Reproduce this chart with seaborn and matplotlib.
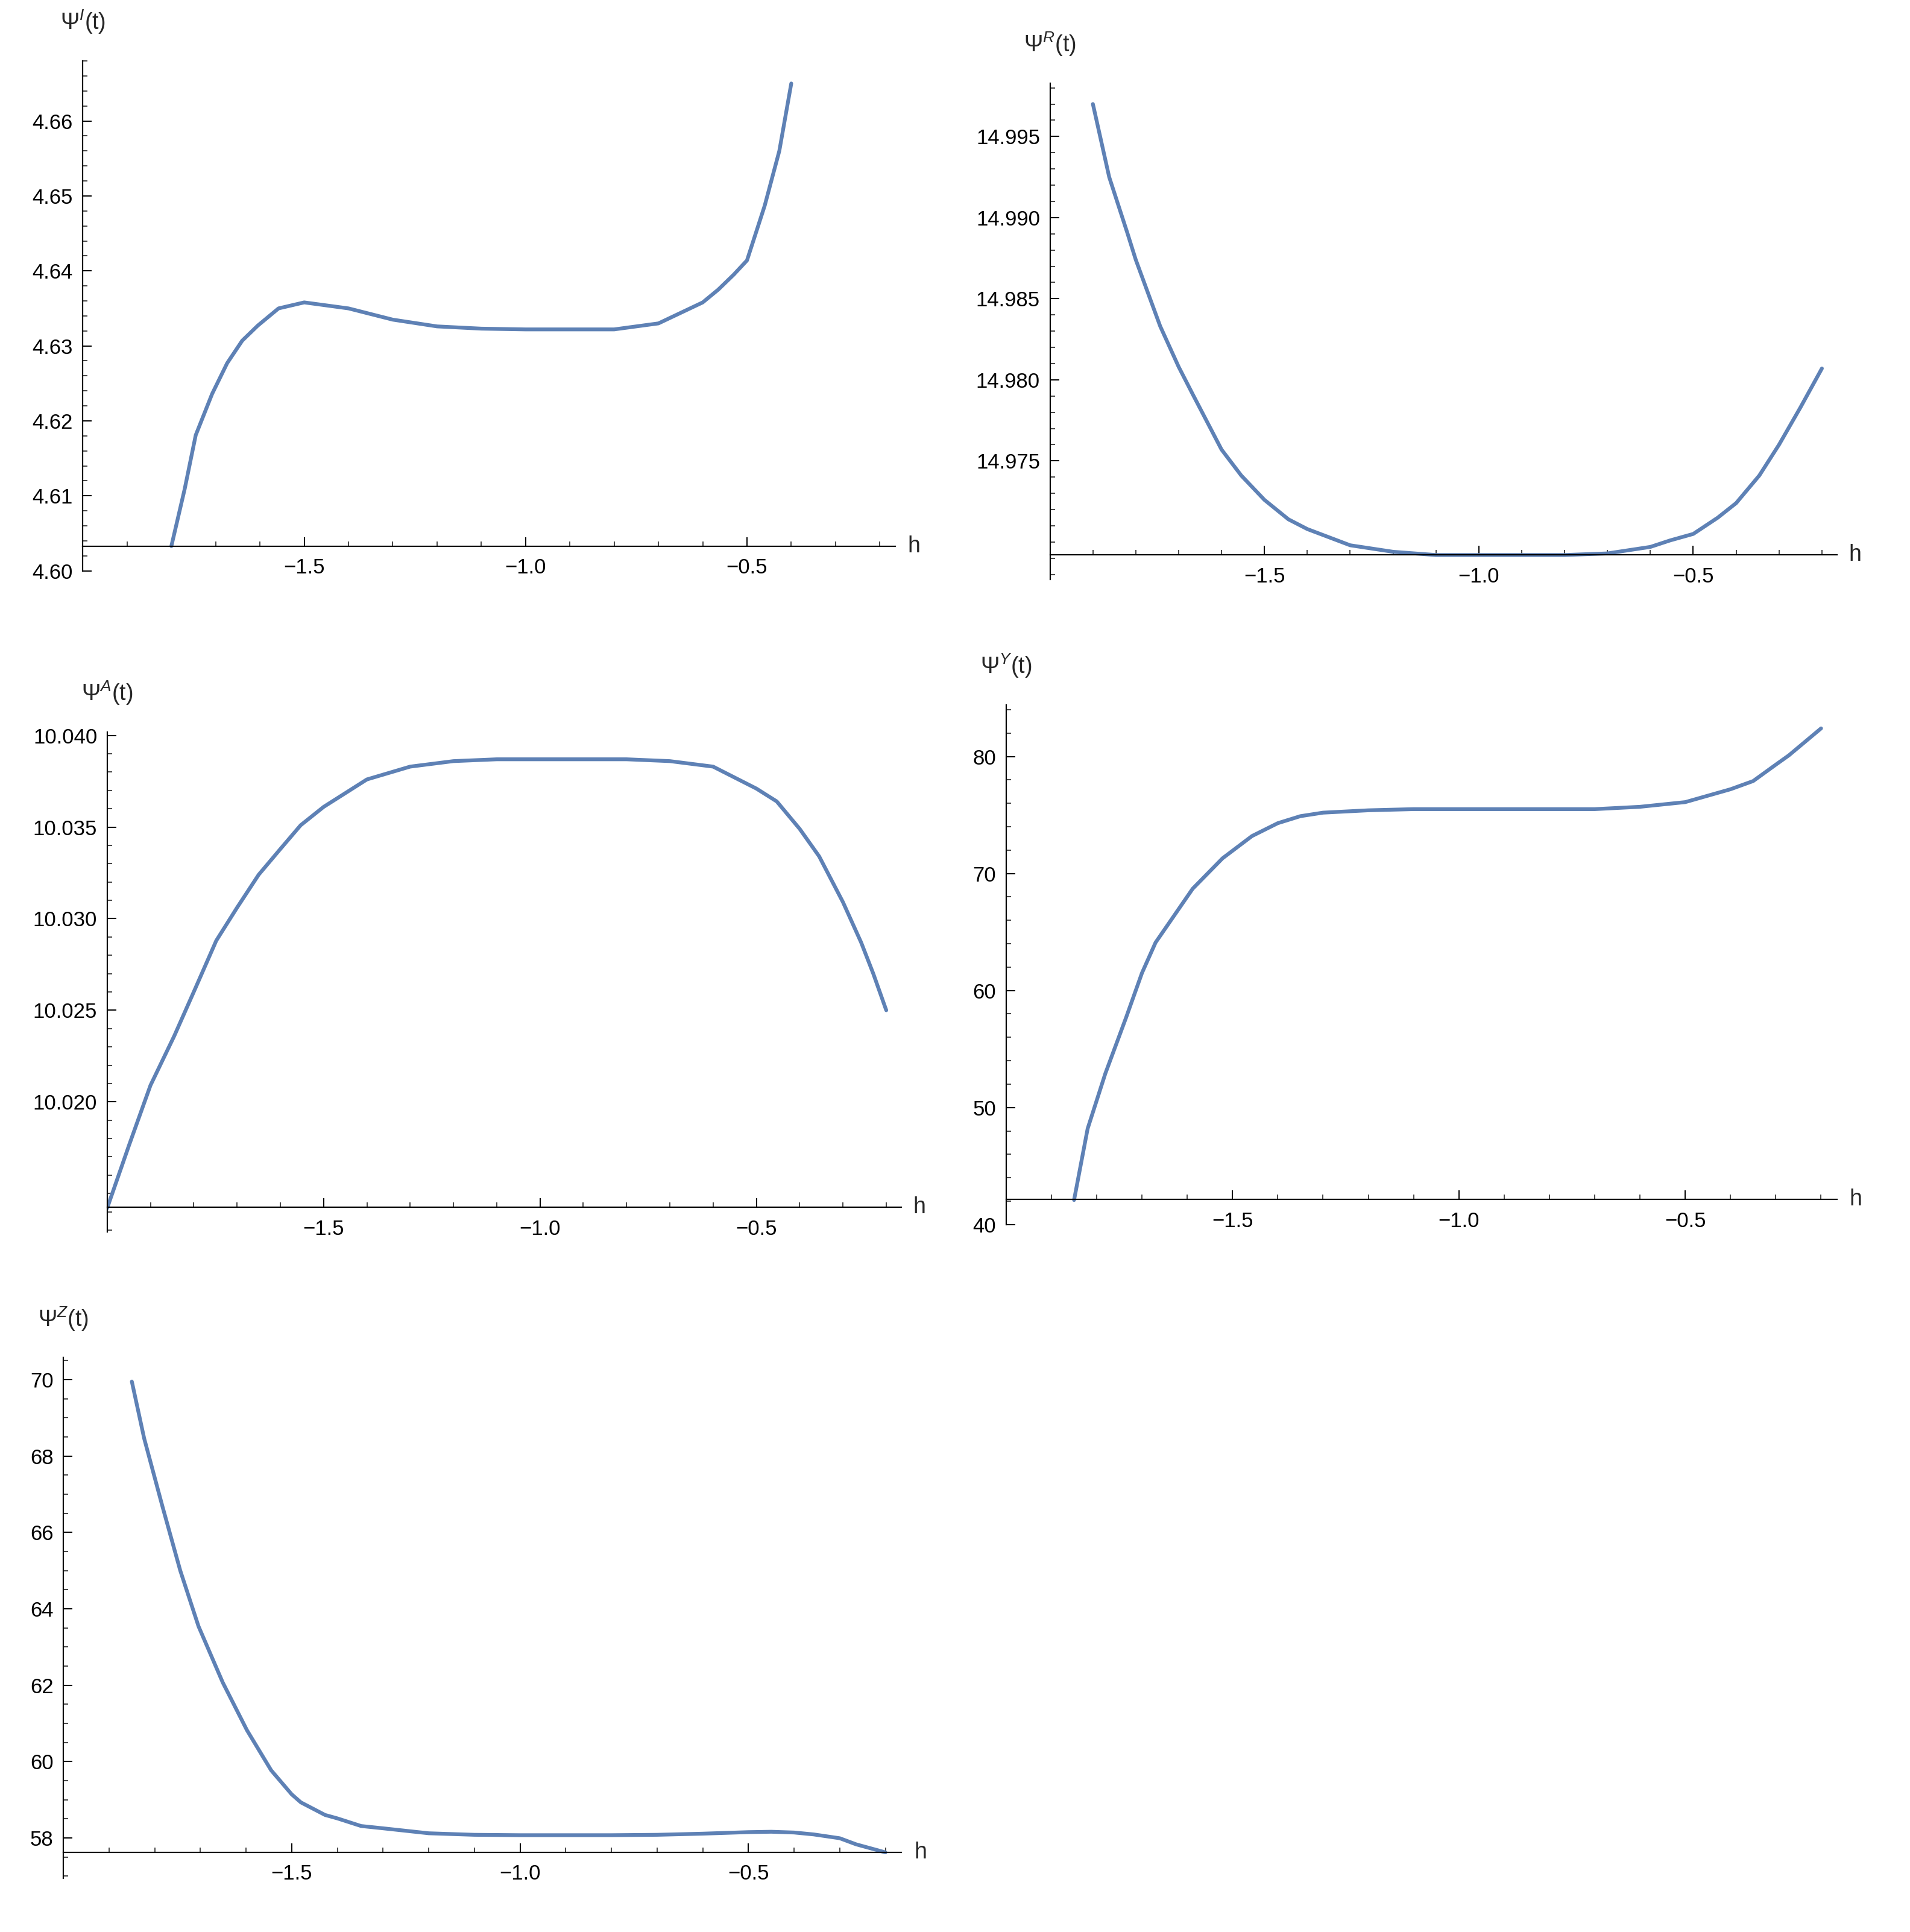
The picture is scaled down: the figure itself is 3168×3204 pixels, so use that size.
import numpy as np
import pandas as pd
import matplotlib
matplotlib.use("Agg")
import matplotlib.pyplot as plt
from matplotlib.ticker import MultipleLocator, FormatStrFormatter, FixedLocator
import seaborn as sns

sns.set_style("ticks")
plt.rcParams['font.family'] = ['Liberation Sans', 'DejaVu Sans']
plt.rcParams['mathtext.fontset'] = 'custom'
plt.rcParams['mathtext.rm'] = 'Liberation Sans'
plt.rcParams['mathtext.it'] = 'Liberation Sans:italic'
plt.rcParams['axes.unicode_minus'] = True

# ---- data ----
h_I = [-1.8, -1.77, -1.745, -1.708, -1.674, -1.64, -1.605, -1.558, -1.5, -1.4, -1.3, -1.2, -1.1, -1.0, -0.9, -0.8, -0.7, -0.6, -0.565, -0.53, -0.5, -0.46, -0.427, -0.4]
v_I = [4.6033, 4.6109, 4.6181, 4.6236, 4.6277, 4.6307, 4.6327, 4.6350, 4.6358, 4.6350, 4.6335, 4.6326, 4.6323, 4.6322, 4.6322, 4.6322, 4.6330, 4.6358, 4.6375, 4.6395, 4.6414, 4.6487, 4.6560, 4.6650]

h_R = [-1.9, -1.862, -1.819, -1.8, -1.743, -1.7, -1.667, -1.6, -1.554, -1.5, -1.444, -1.4, -1.3, -1.2, -1.1, -1.0, -0.9, -0.8, -0.7, -0.6, -0.554, -0.5, -0.443, -0.4, -0.346, -0.3, -0.25, -0.2]
v_R = [14.997, 14.9925, 14.9890, 14.9874, 14.9833, 14.9808, 14.9791, 14.9757, 14.9741, 14.9726, 14.9714, 14.9708, 14.9698, 14.9694, 14.9692, 14.9692, 14.9692, 14.9692, 14.9693, 14.9697, 14.9701, 14.9705, 14.9715, 14.9724, 14.9741, 14.9760, 14.9783, 14.9807]

h_A = [-2.0, -1.95, -1.9, -1.845, -1.8, -1.748, -1.7, -1.65, -1.6, -1.553, -1.5, -1.44, -1.4, -1.3, -1.2, -1.1, -1.0, -0.9, -0.8, -0.7, -0.6, -0.5, -0.453, -0.4, -0.355, -0.3, -0.258, -0.23, -0.2]
v_A = [10.0142, 10.0176, 10.0209, 10.0236, 10.0260, 10.0288, 10.0306, 10.0324, 10.0338, 10.0351, 10.0361, 10.0370, 10.0376, 10.0383, 10.0386, 10.0387, 10.0387, 10.0387, 10.0387, 10.0386, 10.0383, 10.0371, 10.0364, 10.0349, 10.0334, 10.0309, 10.0287, 10.0270, 10.0250]

h_Y = [-1.85, -1.82, -1.781, -1.735, -1.7, -1.67, -1.588, -1.522, -1.457, -1.4, -1.35, -1.3, -1.2, -1.1, -1.0, -0.9, -0.8, -0.7, -0.6, -0.5, -0.4, -0.35, -0.3, -0.271, -0.2]
v_Y = [42.1, 48.2, 52.9, 57.7, 61.5, 64.1, 68.7, 71.3, 73.2, 74.3, 74.9, 75.2, 75.4, 75.5, 75.5, 75.5, 75.5, 75.5, 75.7, 76.1, 77.2, 77.9, 79.3, 80.1, 82.4]

h_Z = [-1.85, -1.823, -1.783, -1.744, -1.704, -1.651, -1.598, -1.545, -1.5, -1.48, -1.427, -1.4, -1.348, -1.3, -1.2, -1.1, -1.0, -0.9, -0.8, -0.7, -0.6, -0.5, -0.45, -0.4, -0.357, -0.3, -0.264, -0.2]
v_Z = [69.95, 68.46, 66.68, 65.0, 63.54, 62.07, 60.82, 59.77, 59.14, 58.93, 58.6, 58.51, 58.31, 58.25, 58.12, 58.08, 58.07, 58.07, 58.07, 58.08, 58.11, 58.15, 58.16, 58.14, 58.09, 57.99, 57.83, 57.62]

x_ticks = [-1.5, -1.0, -0.5]
x_ticklabels = ["\u22121.5", "\u22121.0", "\u22120.5"]

yt_I = [4.60, 4.61, 4.62, 4.63, 4.64, 4.65, 4.66]
yt_R = [14.975, 14.980, 14.985, 14.990, 14.995]
yt_A = [10.020, 10.025, 10.030, 10.035, 10.040]
yt_Y = [40, 50, 60, 70, 80]
yt_Z = [58, 60, 62, 64, 66, 68, 70]

panels = [
    ("I", h_I, v_I, (4.600, 4.668), 4.6033, yt_I, 0.002, "%.2f", (68, 50, 735, 468)),
    ("R", h_R, v_R, (14.9677, 14.9983), 14.9692, yt_R, 0.001, "%.3f", (862, 68, 1508, 475)),
    ("A", h_A, v_A, (10.0129, 10.0402), 10.01424, yt_A, 0.001, "%.3f", (88, 600, 740, 1010)),
    ("Y", h_Y, v_Y, (40.0, 84.4), 42.14, yt_Y, 2, "%d", (826, 578, 1508, 1004)),
    ("Z", h_Z, v_Z, (56.94, 70.58), 57.62, yt_Z, 0.5, "%d", (52, 1113, 740, 1540)),
]

W, H = 1568.0, 1584.0
fig = plt.figure(figsize=(31.68, 32.04), dpi=100)
color = "#5E81B5"

for name, hs, vs, ylim, cross, yt, mnr, fmt, (l, t, r, b) in panels:
    ax = fig.add_axes([l / W, 1 - b / H, (r - l) / W, (b - t) / H])
    df = pd.DataFrame({"h": hs, "v": vs})
    sns.lineplot(data=df, x="h", y="v", ax=ax, color=color, linewidth=4.5, sort=True)
    ax.set_xlim(-2.0, -0.165)
    ax.set_ylim(*ylim)
    ax.spines['top'].set_visible(False)
    ax.spines['right'].set_visible(False)
    ax.spines['bottom'].set_position(('data', cross))
    for s in ('left', 'bottom'):
        ax.spines[s].set_linewidth(1.6)
        ax.spines[s].set_color('black')
    ax.set_xticks(x_ticks)
    ax.set_xticklabels(x_ticklabels)
    ax.xaxis.set_minor_locator(MultipleLocator(0.1))
    ax.yaxis.set_major_locator(FixedLocator(yt))
    ax.yaxis.set_minor_locator(MultipleLocator(mnr))
    ax.yaxis.set_major_formatter(FormatStrFormatter(fmt))
    ax.tick_params(axis='both', which='major', direction='in', length=11, width=1.4,
                   labelsize=25, colors='black')
    ax.tick_params(axis='both', which='minor', direction='in', length=6, width=1.2)
    ax.tick_params(axis='x', which='major', pad=14)
    ax.tick_params(axis='y', which='major', pad=12)
    ax.set_xlabel("")
    ax.set_ylabel("")
    ax.grid(False)
    ax.text(1.015, (cross - ylim[0]) / (ylim[1] - ylim[0]), "h", transform=ax.transAxes,
            fontsize=27, ha='left', va='center')
    ax.annotate(r"$\mathrm{\Psi}^{%s}\mathrm{(t)}$" % name, xy=(0, 1), xycoords='axes fraction',
                xytext=(0, 30), textcoords='offset points', ha='center', va='bottom', fontsize=27)

fig.savefig("out.png", dpi=100)
